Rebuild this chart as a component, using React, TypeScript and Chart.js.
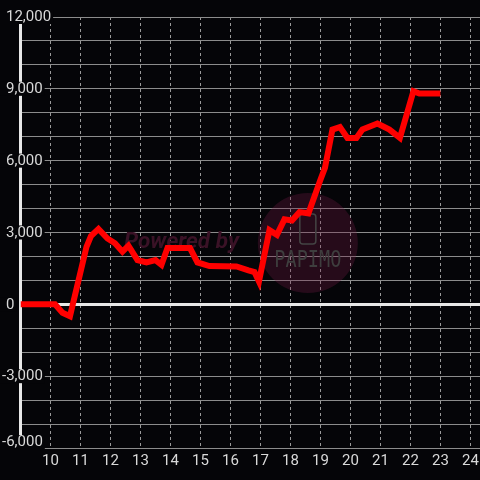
import React, { useEffect, useRef } from "react";
import { Chart, registerables } from "chart.js";

Chart.register(...registerables);

// ---- data ----
const hours = [
  9.0, 10.15, 10.4, 10.65, 11.2, 11.35, 11.6, 11.9, 12.15, 12.4, 12.6, 12.9, 13.2, 13.5,
  13.7, 13.9, 14.65, 14.9, 15.3, 16.2, 16.6, 16.8, 16.95, 17.3, 17.55, 17.8, 18.05, 18.3,
  18.6, 19.0, 19.15, 19.4, 19.65, 19.9, 20.2, 20.4, 20.9, 21.3, 21.65, 22.1, 22.3, 23.0,
];
const values = [
  0, 0, -350, -500, 2400, 2850, 3150, 2750, 2550, 2200, 2450, 1850, 1750, 1850,
  1650, 2350, 2350, 1750, 1600, 1580, 1420, 1350, 950, 3100, 2900, 3550, 3500, 3850,
  3800, 5200, 5700, 7300, 7400, 6950, 6950, 7300, 7550, 7300, 6950, 8900, 8800, 8800,
];
const xTicks = [9, 10, 11, 12, 13, 14, 15, 16, 17, 18, 19, 20, 21, 22, 23, 24];
const xTickLabels = ["10", "11", "12", "13", "14", "15", "16", "17", "18", "19", "20", "21", "22", "23", "24"];
const yLabeled = [12000, 9000, 6000, 3000, 0, -3000, -6000];
const yMin = -6000;
const yMax = 12000;
const yStep = 1000;
const xMin = 9;
const xMax = 24.32;

const BG = "#050508";
const TEXT = "#d9d9d9";
const FONT = "15px Roboto";

const fmt = (v: number) => v.toLocaleString("en-US");

const overlayPlugin = {
  id: "overlay",
  beforeDatasetsDraw(chart: any) {
    const ctx = chart.ctx as CanvasRenderingContext2D;
    const xs = chart.scales.x;
    const ys = chart.scales.y;
    const area = chart.chartArea;
    ctx.save();

    // watermark circle
    const cx = xs.getPixelForValue(18.58);
    const cy = ys.getPixelForValue(2560);
    ctx.fillStyle = "rgba(115,28,68,0.30)";
    ctx.beginPath();
    ctx.arc(cx, cy, 50, 0, Math.PI * 2);
    ctx.fill();

    // phone icon
    ctx.strokeStyle = "#444444";
    ctx.lineWidth = 1.5;
    ctx.beginPath();
    (ctx as any).roundRect(cx - 8, cy - 29, 16, 30, 3);
    ctx.stroke();

    // PAPIMO text
    ctx.fillStyle = "#3e3e3e";
    ctx.font = "18px 'DejaVu Sans Mono'";
    const pw = ctx.measureText("PAPIMO").width;
    ctx.save();
    ctx.translate(cx, cy + 24);
    ctx.scale(67 / pw, 1.3);
    ctx.textAlign = "center";
    ctx.textBaseline = "alphabetic";
    ctx.fillText("PAPIMO", 0, 0);
    ctx.restore();

    // Powered by
    ctx.font = "italic bold 19px Roboto";
    const w = ctx.measureText("Powered by").width;
    const size = (19 * 115) / w;
    ctx.font = `italic bold ${size.toFixed(2)}px Roboto`;
    ctx.fillStyle = "#3a1226";
    ctx.textAlign = "left";
    ctx.textBaseline = "alphabetic";
    ctx.fillText("Powered by", xs.getPixelForValue(12.45), ys.getPixelForValue(2370));

    // y labels with backdrop
    ctx.font = FONT;
    ctx.textBaseline = "middle";
    ctx.textAlign = "left";
    yLabeled.forEach((v) => {
      let py = ys.getPixelForValue(v);
      py = Math.min(py, area.bottom - 6);
      const t = fmt(v);
      const tx = v < 0 ? 2 : 6;
      const tw = ctx.measureText(t).width;
      ctx.fillStyle = BG;
      ctx.fillRect(0, py - 7, tx + tw + 2, 14);
      ctx.fillStyle = TEXT;
      ctx.fillText(t, tx, py + 0.5);
    });

    // x labels
    ctx.textAlign = "center";
    ctx.textBaseline = "middle";
    ctx.fillStyle = TEXT;
    xTickLabels.forEach((lab) => {
      const px = xs.getPixelForValue(Number(lab));
      ctx.fillText(lab, px, area.bottom + 13.5);
    });

    ctx.restore();
  },
};

export default function App() {
  const ref = useRef<HTMLCanvasElement | null>(null);

  useEffect(() => {
    if (!ref.current) return;
    const chart = new Chart(ref.current, {
      type: "line",
      data: {
        datasets: [
          {
            data: hours.map((h, i) => ({ x: h, y: values[i] })),
            borderColor: "#ff0000",
            borderWidth: 6,
            pointRadius: 0,
            tension: 0,
            fill: false,
            borderJoinStyle: "miter",
            borderCapStyle: "butt",
          },
        ],
      },
      options: {
        animation: false,
        responsive: false,
        maintainAspectRatio: false,
        events: [],
        layout: {
          autoPadding: false,
          padding: { left: 20.5, right: 0, top: 17, bottom: 32 },
        },
        plugins: {
          legend: { display: false },
          tooltip: { enabled: false },
          title: { display: false },
        },
        scales: {
          x: {
            type: "linear",
            min: xMin,
            max: xMax,
            afterBuildTicks: (s: any) => {
              s.ticks = xTicks.map((v) => ({ value: v }));
            },
            ticks: { display: false },
            grid: {
              color: "#9a9a9a",
              lineWidth: 1,
              drawTicks: false,
            },
            border: { display: false, dash: [3, 3] },
          },
          y: {
            type: "linear",
            min: yMin,
            max: yMax,
            afterBuildTicks: (s: any) => {
              const t: any[] = [];
              for (let v = yMin; v <= yMax; v += yStep) t.push({ value: v });
              s.ticks = t;
            },
            ticks: { display: false },
            grid: {
              color: (c: any) => (c.tick && c.tick.value === 0 ? "#e8e8e8" : "#8c8c8c"),
              lineWidth: (c: any) => (c.tick && c.tick.value === 0 ? 3 : 1),
              drawTicks: false,
            },
            border: { display: true, color: "#e8e8e8", width: 3 },
          },
        },
      },
      plugins: [overlayPlugin],
    } as any);
    return () => chart.destroy();
  }, []);

  return (
    <div
      style={{
        position: "fixed",
        left: 0,
        top: 0,
        width: 480,
        height: 480,
        background: BG,
      }}
    >
      <canvas ref={ref} width={480} height={480} style={{ display: "block" }} />
    </div>
  );
}
